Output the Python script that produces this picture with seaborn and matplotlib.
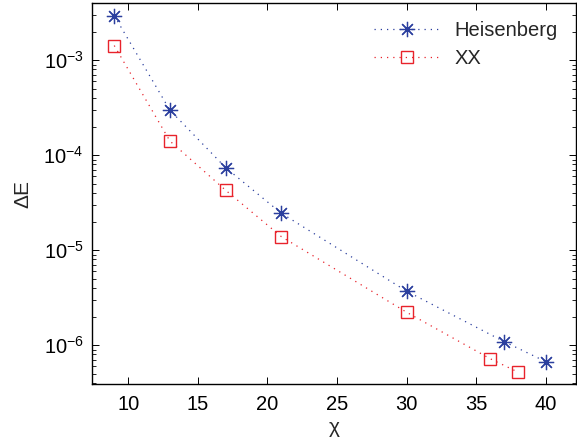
import numpy as np
import pandas as pd
import matplotlib
matplotlib.use("Agg")
import matplotlib.pyplot as plt
import seaborn as sns

# valores
chi_heis = [9, 13, 17, 21, 30, 37, 40]
dE_heis = [2.95e-3, 2.98e-4, 7.4e-5, 2.45e-5, 3.7e-6, 1.09e-6, 6.7e-7]

chi_xx = [9, 13, 17, 21, 30, 36, 38]
dE_xx = [1.43e-3, 1.41e-4, 4.28e-5, 1.39e-5, 2.22e-6, 7.2e-7, 5.2e-7]

sns.set_style("ticks")
plt.rcParams["font.family"] = ["Liberation Sans", "DejaVu Sans"]
plt.rcParams["mathtext.fontset"] = "custom"
plt.rcParams["mathtext.rm"] = "Liberation Sans"
plt.rcParams["mathtext.it"] = "Liberation Sans:italic"

fig = plt.figure(figsize=(5.77, 4.46), dpi=100)
ax = fig.add_axes([0.1594, 0.139, 0.8386, 0.854])

azul = "#2b3f9e"
verm = "#e8232b"
pontilhado = (0, (1, 4))

sns.lineplot(x=chi_heis, y=dE_heis, ax=ax, color=azul, linestyle=pontilhado, linewidth=0.9,
             marker=(8, 2, 0), markersize=11, markeredgewidth=0.9,
             markeredgecolor=azul, label="Heisenberg")
sns.lineplot(x=chi_xx, y=dE_xx, ax=ax, color=verm, linestyle=pontilhado, linewidth=0.9,
             marker="s", markersize=8, markerfacecolor="none", markeredgewidth=1.0,
             markeredgecolor=verm, label="XX")

ax.set_yscale("log")
ax.set_xlim(7.4, 42.15)
ax.set_ylim(3.9e-7, 4.0e-3)
ax.set_xticks([10, 15, 20, 25, 30, 35, 40])

ax.tick_params(which="both", direction="in", top=True, right=True, labelsize=14.5, colors="black")
ax.tick_params(which="major", length=5, width=0.7)
ax.tick_params(which="minor", length=3, width=0.6)
ax.tick_params(axis="x", pad=8)
ax.tick_params(axis="y", pad=6)
for s in ax.spines.values():
    s.set_linewidth(1.0)
    s.set_color("black")

ax.set_xlabel("χ", fontsize=15, labelpad=3)
ax.set_ylabel("ΔE", fontsize=15, labelpad=8)

leg = ax.legend(loc="upper right", frameon=False, fontsize=14.5, handlelength=3.3,
                handletextpad=0.7, labelspacing=0.45, bbox_to_anchor=(1.0, 1.0))

fig.savefig("out.png", dpi=100)
